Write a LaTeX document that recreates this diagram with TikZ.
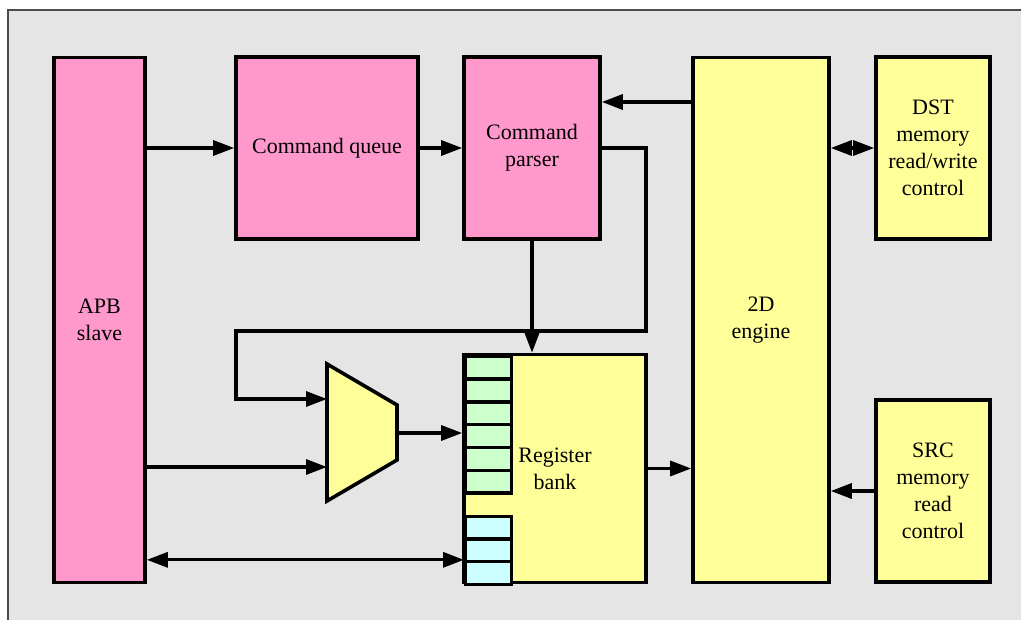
\documentclass[tikz,border=0pt]{standalone}
\usepackage{fontspec}
\setmainfont{Liberation Serif}
\usetikzlibrary{arrows.meta,calc}
\definecolor{pinkf}{HTML}{FF99CC}
\definecolor{yelf}{HTML}{FFFF99}
\definecolor{grnf}{HTML}{CCFFCC}
\definecolor{cyaf}{HTML}{CCFFFF}
\definecolor{bgf}{HTML}{E5E5E5}
\tikzset{
  blk/.style={draw=black, line width=3.6pt, rectangle, inner sep=0pt, align=center,
    font=\fontsize{22}{27}\selectfont},
  pinkblk/.style={blk, fill=pinkf},
  yelblk/.style={blk, fill=yelf},
  cell/.style={draw=black, line width=3.4pt, rectangle, inner sep=0pt, minimum width=46pt, anchor=north west},
  gcell/.style={cell, fill=grnf, minimum height=22.83pt},
  bcell/.style={cell, fill=cyaf, minimum height=22.67pt},
  arr/.style={line width=3.2pt, line join=miter, -{Triangle[length=21pt,width=15pt]}},
  darr/.style={line width=3.2pt, {Triangle[length=21pt,width=15pt]}-{Triangle[length=21pt,width=15pt]}},
}
\begin{document}
\begin{tikzpicture}[x=1pt,y=-1pt]
\useasboundingbox (0,0) rectangle (1021,620);
\fill[bgf] (8,10) rectangle (1040,640);
\draw[black!70, line width=1.2pt] (8,640) -- (8,10) -- (1040,10);

\node[pinkblk, minimum width=91pt, minimum height=525pt] (apb) at (99.5,320) {APB\\slave};
\node[pinkblk, minimum width=182pt, minimum height=182pt] (cq) at (327,148) {Command queue};
\node[pinkblk, minimum width=136pt, minimum height=182pt] (cp) at (532,148) {Command\\parser};
\node[yelblk, minimum width=136pt, minimum height=525pt] (eng) at (761,320) {2D\\engine};
\node[yelblk, minimum width=114pt, minimum height=182pt] (dst) at (933,148) {DST\\memory\\read/write\\control};
\node[yelblk, minimum width=114pt, minimum height=182pt] (src) at (933,491) {SRC\\memory\\read\\control};
\node[yelblk, minimum width=182pt, minimum height=228pt] (rb) at (555,468.5) {Register\\bank};

% register cells
\foreach \i in {1,...,6} {
  \node[gcell] (g\i) at (464,{354.5+22.83*(\i-1)}) {};
}
\foreach \i in {1,...,3} {
  \node[bcell] (b\i) at (464,{514.5+22.67*(\i-1)}) {};
}

% multiplexer
\coordinate (mtl) at (327,364);
\coordinate (mtr) at (397,405);
\coordinate (mbr) at (397,460);
\coordinate (mbl) at (327,501);
\draw[line width=3.6pt, fill=yelf, line join=miter] (mtl) -- (mtr) -- (mbr) -- (mbl) -- cycle;
\coordinate (min1) at (327,399);
\coordinate (min2) at (327,467);
\coordinate (mout) at (397,433);

% connectors
\draw[arr] (apb.east |- cq.west) -- (cq.west);
\draw[arr] (cq.east) -- (cp.west);
\coordinate (e1) at (693,102);
\draw[arr] (e1) -- (cp.east |- e1);
\draw[darr] (eng.east |- dst.west) -- (dst.west);
\draw[arr] (src.west) -- (eng.east |- src.west);
\draw[arr] (cp.south) -- (cp.south |- rb.north);
\coordinate (fb1) at (646,148);
\coordinate (fb2) at (646,331);
\coordinate (fb3) at (236,331);
\draw[arr] (cp.east |- fb1) -- (fb1) -- (fb2) -- (fb3) -- (fb3 |- min1) -- (min1);
\draw[arr] (apb.east |- min2) -- (min2);
\draw[arr] (mout) -- (mout -| rb.west);
\draw[darr] (apb.east |- b3.north west) -- (b3.north west);
\draw[arr] (rb.east) -- (eng.west |- rb.east);
\end{tikzpicture}
\end{document}
